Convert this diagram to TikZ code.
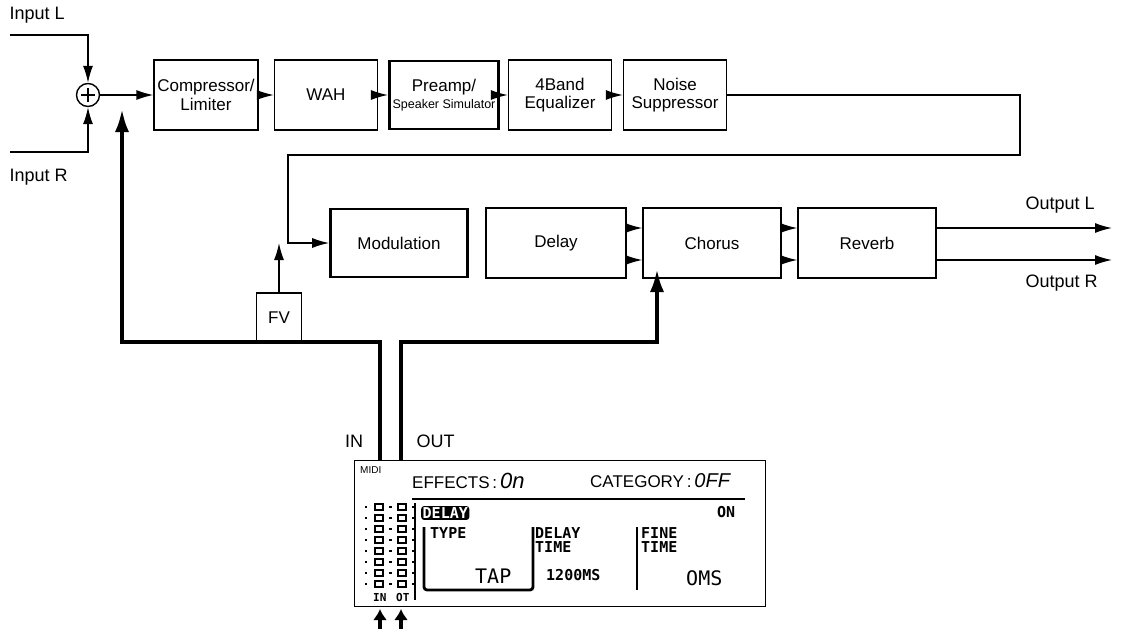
\documentclass[tikz,border=0pt]{standalone}
\usepackage{fontspec}
\setmainfont{Liberation Sans}
\newfontfamily\lcd{DejaVu Sans Mono}
\usetikzlibrary{arrows.meta}
\begin{document}
\begin{tikzpicture}[x=1pt,y=-1pt,
  blk/.style={draw,line width=1.3pt,align=center,font=\fontsize{17}{18.5}\selectfont},
  thk/.style={blk,line width=2.6pt},
  ar/.style={line width=1.4pt,-{Latex[length=17pt,width=10pt]}},
  ln/.style={line width=1.4pt},
  bigar/.style={line width=4.5pt,-{Latex[length=24pt,width=14pt]}},
  lbl/.style={font=\fontsize{18}{19}\selectfont},
  lc/.style={font=\lcd\bfseries\fontsize{15}{14}\selectfont,inner sep=0pt,anchor=west}]
\useasboundingbox (0,0) rectangle (1123,629);
% row 1
\node[blk,minimum width=103pt,minimum height=70pt] (comp) at (206,95) {Compressor/\\Limiter};
\node[blk,minimum width=103pt,minimum height=70pt] (wah) at (326,95) {WAH};
\node[thk,minimum width=102pt,minimum height=68pt] (pre) at (444,95) {Preamp/\\[-2pt]{\fontsize{12.5}{13}\selectfont Speaker Simulator}};
\node[blk,minimum width=103pt,minimum height=70pt] (eq) at (560,95) {4Band\\Equalizer};
\node[blk,minimum width=103pt,minimum height=70pt] (ns) at (675,95) {Noise\\Suppressor};
\node[draw,circle,line width=1.4pt,minimum size=23pt,inner sep=0pt] (sum) at (88,95) {};
\draw[ln] ([yshift=-7pt]sum.center)--([yshift=7pt]sum.center) ([xshift=-7pt]sum.center)--([xshift=7pt]sum.center);
\node[lbl,anchor=west] (inl) at (6,15) {Input L};
\node[lbl,anchor=west] (inr) at (6,177) {Input R};
\coordinate (il) at (10,35); \coordinate (ir) at (10,152);
\draw[ar] (il) -| (sum.north);
\draw[ar] (ir) -| (sum.south);
\draw[ar] (sum) -- (comp);
\draw[ar] (comp) -- (wah);
\draw[ar] (wah) -- (pre);
\draw[ar] (pre) -- (eq);
\draw[ar] (eq) -- (ns);
% row 2
\node[thk,minimum width=137pt,minimum height=68pt] (mod) at (399,243) {Modulation};
\node[blk,minimum width=140pt,minimum height=70pt] (del) at (556,243) {Delay};
\node[blk,minimum width=138pt,minimum height=70pt] (cho) at (712,243) {Chorus};
\node[blk,minimum width=138pt,minimum height=70pt] (rev) at (867,243) {Reverb};
\node[blk,minimum width=45pt,minimum height=50pt] (fv) at (279,318) {FV};
\draw[ar] (ns.east) -- (1020,95) -- (1020,155) -- (288,155) -- (288,243) -- (mod.west);
\draw[ar] (fv.north) -- (279,243);
\draw[ar] (del.east|-0,228) -- (cho.west|-0,228);
\draw[ar] (del.east|-0,260) -- (cho.west|-0,260);
\draw[ar] (cho.east|-0,228) -- (rev.west|-0,228);
\draw[ar] (cho.east|-0,260) -- (rev.west|-0,260);
\coordinate (ol) at (1112,228); \coordinate (or) at (1112,260);
\draw[ar] (rev.east|-0,228) -- (ol);
\draw[ar] (rev.east|-0,260) -- (or);
\node[lbl,anchor=west] (outl) at (1022,205) {Output L};
\node[lbl,anchor=west] (outr) at (1022,283) {Output R};
% MIDI lines
\node[lbl] (inlab) at (354,441) {IN};
\node[lbl,anchor=west] (outlab) at (413,441) {OUT};
\draw[bigar] (380,460) -- (380,342) -- (122,342) -- (122,108);
\draw[bigar] (401,460) -- (401,342) -- (657,342) -- (657,268);
% LCD
\node[draw,line width=1.3pt,minimum width=411pt,minimum height=146pt,anchor=north west] (lcdbox) at (354,460) {};
\node[font=\fontsize{10}{10}\selectfont,anchor=west,inner sep=0pt] (midi) at (360,470) {MIDI};
\node[font=\fontsize{17}{17}\selectfont,anchor=west,inner sep=0pt] (eff) at (412,481) {EFFECTS\,:\,\textit{\fontsize{22}{22}\selectfont 0n}};
\node[font=\fontsize{17}{17}\selectfont,anchor=west,inner sep=0pt] (cat) at (590,481) {CATEGORY\,:\,\textit{\fontsize{20}{20}\selectfont 0FF}};
\draw[line width=1.8pt] (412,499) -- (745,499);
\node[fill=black,text=white,rounded corners=3pt,lc,inner sep=1.5pt] (dl) at (421,513) {DELAY};
\node[lc] (on) at (717,512) {ON};
\node[lc,align=left,anchor=north west] (type) at (430,527) {TYPE};
\node[lc,font=\lcd\fontsize{20}{20}\selectfont] (tap) at (475,576) {TAP};
\draw[line width=2.8pt,rounded corners=3pt] (424,527) -- (424,590) -- (533,590) -- (533,527);
\node[lc,align=left,anchor=north west] (dt) at (535,527) {DELAY\\TIME};
\node[lc] (ms) at (546,575) {1200MS};
\draw[line width=2.5pt] (637,527) -- (637,590);
\node[lc,align=left,anchor=north west] (ft) at (641,527) {FINE\\TIME};
\node[lc,font=\lcd\fontsize{20}{20}\selectfont] (oms) at (686,578) {OMS};
% meters
\foreach \y in {507,518,529,540,551,562,573,584}{
  \draw[line width=1.4pt] (375,\y-3) rectangle (383,\y+3);
  \draw[line width=1.4pt] (398,\y-3) rectangle (406,\y+3);
  \draw[line width=1.2pt] (365,\y)--(367,\y) (389,\y)--(392,\y) (412,\y)--(415,\y);}
\draw[line width=1.5pt] (415,503) -- (415,600);
\node[lc,font=\lcd\bfseries\fontsize{11}{11}\selectfont] (inm) at (373,597) {IN};
\node[lc,font=\lcd\bfseries\fontsize{11}{11}\selectfont] (otm) at (396,597) {OT};
\coordinate (a1) at (380,629); \coordinate (a2) at (401,629);
\draw[line width=4pt,-{Latex[length=11pt,width=14pt]}] (a1) -- (380,609);
\draw[line width=4pt,-{Latex[length=11pt,width=14pt]}] (a2) -- (401,609);
\end{tikzpicture}
\end{document}
